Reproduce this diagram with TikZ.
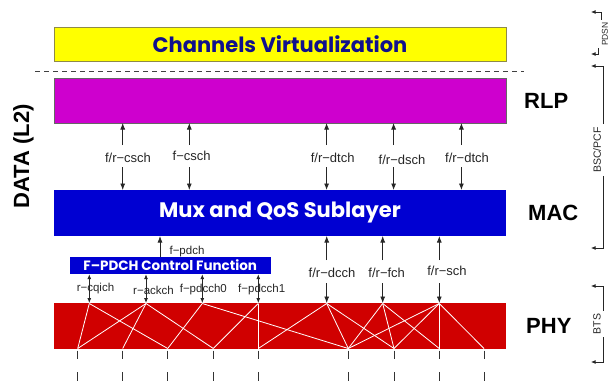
\documentclass[tikz,border=0pt]{standalone}
\usepackage{fontspec}
\setmainfont{Liberation Sans}
\newfontfamily\avgfont{Poppins}
\usetikzlibrary{arrows.meta}
\definecolor{cvyel}{RGB}{255,255,0}
\definecolor{cvnavy}{RGB}{16,16,140}
\definecolor{rlpmag}{RGB}{206,0,206}
\definecolor{macblue}{RGB}{0,0,210}
\definecolor{phyred}{RGB}{208,0,0}
\tikzset{
  layer/.style={minimum width=452pt, inner sep=0pt, outer sep=0pt},
  arr/.style={draw=black!85, line width=0.8pt, -{Latex[length=6.5pt,width=5pt]}},
  sarr/.style={draw=black!85, line width=0.8pt, {Latex[length=5pt,width=4pt]}-{Latex[length=5pt,width=4pt]}},
  lbl/.style={font=\fontsize{13}{15}\selectfont, inner sep=0pt, text=black!85},
  slbl/.style={font=\fontsize{11.5}{13}\selectfont, inner sep=0pt, text=black!85},
  big/.style={font=\bfseries\fontsize{22}{26}\selectfont, inner sep=0pt, anchor=west},
  wl/.style={draw=white, line width=0.8pt},
  tickmark/.style={draw=black!80, line width=0.8pt},
  brk/.style={draw=black!85, line width=0.7pt},
  brkarr/.style={brk, -{Latex[length=4.5pt,width=3.8pt]}},
  sidelbl/.style={rotate=90, inner sep=0pt, text=black!85},
}
\begin{document}
\begin{tikzpicture}[x=1pt,y=-1pt]
\useasboundingbox (0,0) rectangle (611,383);
% layer boxes
\node[layer, fill=cvyel, draw=black!50!yellow, line width=0.6pt, minimum height=34pt, text=cvnavy,
      font=\avgfont\bfseries\fontsize{21}{24}\selectfont] (cv) at (280,44) {Channels Virtualization};
\draw[dashed, dash pattern=on 5pt off 4pt, line width=0.8pt, black!75] (35,71.7) -- (524,71.7);
\node[layer, fill=rlpmag, draw=black!60, line width=0.6pt, minimum height=45pt] (rlp) at (280,100.5) {};
\node[layer, fill=macblue, minimum height=46pt, text=white,
      font=\avgfont\bfseries\fontsize{21}{24}\selectfont] (mac) at (280,213) {Mux and QoS Sublayer};
\node[fill=macblue, minimum width=201.5pt, minimum height=17pt, inner sep=0pt, text=white,
      font=\avgfont\bfseries\fontsize{13.5}{15}\selectfont] (fpd) at (170.25,265.5) {F–PDCH Control Function};
\node[layer, fill=phyred, minimum height=46pt] (phy) at (280,326) {};
% layer names
\node[big] (lrlp) at (524,100.5) {RLP};
\node[big] (lmac) at (528,213) {MAC};
\node[big] (lphy) at (526,326) {PHY};
\node[font=\bfseries\fontsize{22}{26}\selectfont, inner sep=0pt, rotate=90] (data) at (23.5,156.5) {DATA (L2)};
% RLP <-> MAC
\node[lbl] (u1) at (128,158.3) {f/r−csch};
\node[lbl] (u2) at (191.7,156.3) {f−csch};
\node[lbl] (u3) at (332.7,158.3) {f/r−dtch};
\node[lbl] (u4) at (402,160) {f/r−dsch};
\node[lbl] (u5) at (467,158.3) {f/r−dtch};
\foreach \n/\x in {1/122.7,2/189.3,3/326.6,4/393.6,5/461.4}{
  \coordinate (ua\n) at (\x,145);
  \coordinate (ub\n) at (\x,167);
  \draw[arr] (ua\n) -- (ua\n |- rlp.south);
  \draw[arr] (ub\n) -- (ub\n |- mac.north);
}
% MAC <-> PHY
\node[lbl] (m1) at (332,273.3) {f/r−dcch};
\node[lbl] (m2) at (386.7,272.5) {f/r−fch};
\node[lbl] (m3) at (447,270.7) {f/r−sch};
\foreach \n/\x in {1/326.7,2/382.7,3/439.3}{
  \coordinate (ma\n) at (\x,260);
  \coordinate (mb\n) at (\x,283.3);
  \draw[arr] (ma\n) -- (ma\n |- mac.south);
  \draw[arr] (mb\n) -- (mb\n |- phy.north);
}
% f-pdch
\coordinate (fp) at (160,0);
\draw[arr] (fp |- fpd.north) -- (fp |- mac.south);
\node[slbl] (lfp) at (187,251.7) {f−pdch};
% small double arrows
\foreach \n/\x in {1/89.3,2/146,3/202.3,4/258.3}{
  \coordinate (sa\n) at (\x,0);
  \draw[sarr] (sa\n |- fpd.south) -- (sa\n |- phy.north);
}
\node[slbl] (s1) at (95.5,288.5) {r−cqich};
\node[slbl] (s2) at (153.5,290) {r−ackch};
\node[slbl] (s3) at (203.3,290) {f−pdcch0};
\node[slbl] (s4) at (261.7,289.5) {f−pdcch1};
% PHY internal mapping
\foreach \n/\x in {1/89.3,2/146,3/202.3,4/258.3,5/326.7,6/382.7,7/439.3}{
  \coordinate (T\n) at (\x,303.5);
}
\foreach \n/\x in {1/77.7,2/122.7,3/167.7,4/213.3,5/258.3,6/348.3,7/394,8/439.3,9/484}{
  \coordinate (B\n) at (\x,348.5);
  \draw[tickmark] (\x,350.5) -- (\x,358.5);
  \draw[tickmark] (\x,372) -- (\x,380.5);
}
\foreach \a/\b in {1/1,1/3,2/1,2/2,2/4,3/3,3/6,4/4,4/5,5/5,5/6,5/7,6/6,6/7,6/8,7/6,7/7,7/8,7/9}{
  \draw[wl] (T\a) -- (B\b);
}
% right-hand brackets
\node[sidelbl, font=\fontsize{8.5}{10}\selectfont] (pdsn) at (605,34) {PDSN};
\coordinate (pdT) at (601,12); \coordinate (pdTe) at (591,12);
\coordinate (pdB) at (598,54); \coordinate (pdBe) at (591,54);
\draw[brkarr, shorten <=2pt] (pdsn.east -| pdT) -- (pdT) -- (pdTe);
\draw[brkarr, shorten <=2pt] (pdsn.west -| pdB) -- (pdB) -- (pdBe);
\node[sidelbl, font=\fontsize{10.5}{12}\selectfont] (bsc) at (597,150) {BSC/PCF};
\coordinate (bsT) at (603,66); \coordinate (bsTe) at (591,66);
\coordinate (bsB) at (603,248); \coordinate (bsBe) at (591,248);
\draw[brkarr, shorten <=3pt] (bsc.east -| bsT) -- (bsT) -- (bsTe);
\draw[brkarr, shorten <=3pt] (bsc.west -| bsB) -- (bsB) -- (bsBe);
\node[sidelbl, font=\fontsize{10.5}{12}\selectfont] (bts) at (597,324) {BTS};
\coordinate (btT) at (603,286); \coordinate (btTe) at (591,286);
\coordinate (btB) at (603,362); \coordinate (btBe) at (591,362);
\draw[brkarr, shorten <=3pt] (bts.east -| btT) -- (btT) -- (btTe);
\draw[brkarr, shorten <=3pt] (bts.west -| btB) -- (btB) -- (btBe);
\end{tikzpicture}
\end{document}
